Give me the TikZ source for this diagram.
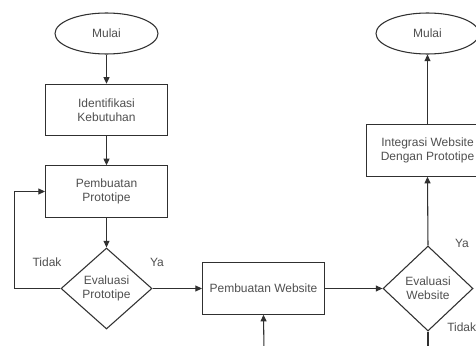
\documentclass[tikz,border=0pt]{standalone}
\usepackage{fontspec}
\setmainfont{Liberation Sans}
\usetikzlibrary{shapes.geometric,arrows.meta}
\definecolor{txt}{HTML}{505050}
\definecolor{ln}{HTML}{303030}
\begin{document}
\begin{tikzpicture}[x=0.75pt,y=-0.75pt,
  every node/.style={font=\fontsize{9}{10.5}\selectfont,text=txt,align=center},
  procbox/.style={draw=ln,line width=0.8pt,rectangle,minimum width=91.5pt,minimum height=38.5pt,inner sep=0pt},
  terminal/.style={draw=ln,line width=0.8pt,ellipse,minimum width=77.25pt,minimum height=30.75pt,inner sep=0pt},
  decision/.style={draw=ln,line width=0.8pt,diamond,aspect=1.1,inner sep=0pt},
  conn/.style={draw=ln,line width=0.8pt,-{Triangle[length=5pt,width=4.5pt]}},
  plainline/.style={draw=ln,line width=0.8pt},
  lbl/.style={font=\fontsize{9}{10.5}\selectfont,text=txt}]
\useasboundingbox (0,0) rectangle (476,346);
\clip (0,0) rectangle (476,346);
\fill[white] (0,0) rectangle (476,346);
\node[terminal] (m1) at (106.5,33.5) {Mulai};
\node[procbox] (b1) at (106.5,110) {Identifikasi\\Kebutuhan};
\node[procbox] (b2) at (106.5,191.5) {Pembuatan\\Prototipe};
\node[decision,minimum width=68.25pt,minimum height=60.75pt] (d1) at (106.5,288.5) {Evaluasi\\Prototipe};
\node[procbox] (pw) at (263.5,288.5) {Pembuatan Website};
\node[decision,minimum width=67.5pt,minimum height=63.75pt] (d2) at (428,288.5) {Evaluasi\\Website};
\node[procbox] (ig) at (427.5,150.5) {Integrasi Website\\Dengan Prototipe};
\node[terminal] (m2) at (427.5,33.5) {Mulai};
\coordinate (inb) at (264,350);
\coordinate (outb) at (428,350);
\draw[conn] (m1) -- (b1);
\draw[conn] (b1) -- (b2);
\draw[conn] (b2) -- (d1);
\draw[conn] (d1.west) -- ++(-46,0) |- (b2.west);
\draw[conn] (d1.east) -- (pw.west);
\draw[conn] (inb) -- (pw.south);
\draw[conn] (pw.east) -- (d2.west);
\draw[conn] (d2.north) -- (ig.south);
\draw[conn] (ig.north) -- (m2.south);
\draw[plainline] (d2.south) -- (outb);
\node[lbl] (t1) at (47,262) {Tidak};
\node[lbl] (y1) at (157,262) {Ya};
\node[lbl] (y2) at (462,243) {Ya};
\node[lbl,anchor=west,inner sep=0pt] (t2) at (447,327) {Tidak};
\end{tikzpicture}
\end{document}
